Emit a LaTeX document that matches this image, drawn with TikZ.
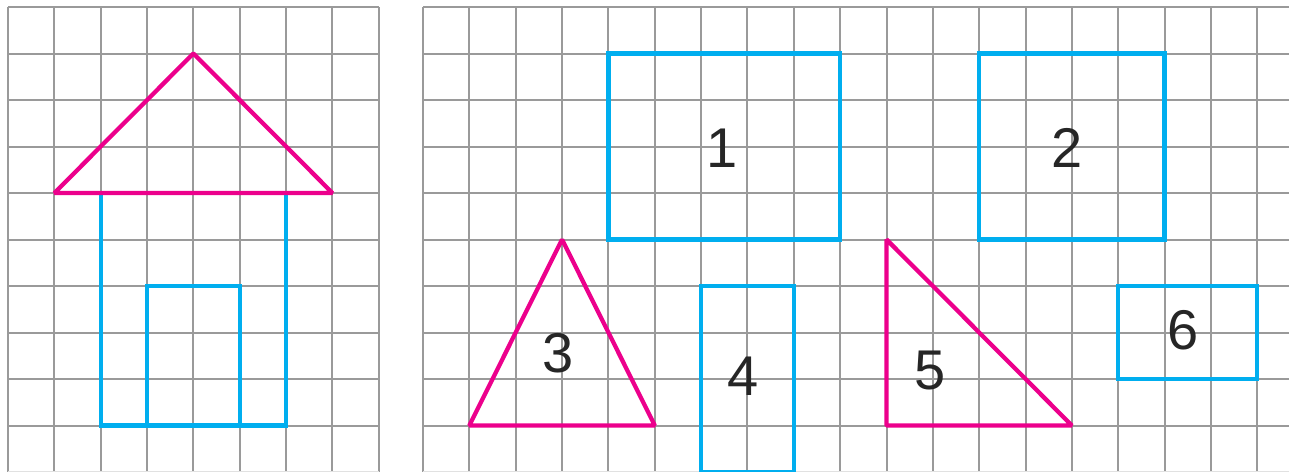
\documentclass[tikz,border=0pt]{standalone}
\usepackage{fontspec}
\setmainfont{Liberation Sans}

\definecolor{gridgray}{HTML}{9A9A9A}
\definecolor{figblue}{HTML}{00AEEF}
\definecolor{figpink}{HTML}{EC008C}

\begin{document}
\begin{tikzpicture}[
  x = 34.7625pt, y = -34.875pt,
  gridline/.style = {draw=gridgray, line width=1.5pt},
  edgeline/.style = {draw=gridgray!30, line width=1.5pt},
  bluefig/.style  = {draw=figblue, line width=3.2pt, line join=miter},
  pinkfig/.style  = {draw=figpink, line width=3.2pt, line join=bevel},
  num/.style      = {font=\fontsize{42}{42}\selectfont, text=black!85,
                     inner sep=0pt},
]
\useasboundingbox (-0.1726,-0.1505) rectangle (27.638,10.0);

% Left sheet - the house
\foreach \i in {0,...,8}
  \draw[gridline] (\i,0) -- (\i,10.1);
\foreach \j in {0,...,9}
  \draw[gridline] (0,\j) -- (8,\j);
\draw[edgeline] (0,10) -- (8,10);

\draw[bluefig] (2,4) -- (2,9) -- (6,9) -- (6,4);
\draw[bluefig] (3,9) -- (3,6) -- (5,6) -- (5,9);
\draw[pinkfig] (1,4) -- (4,1) -- (7,4) -- cycle;

% Right sheet - numbered figures
\begin{scope}[shift={(8.954,0)}]
\foreach \i in {0,...,18}
  \draw[gridline] (\i,0) -- (\i,10.1);
\foreach \j in {0,...,9}
  \draw[gridline] (0,\j) -- (18.684,\j);
\draw[edgeline] (0,10) -- (18.684,10);

\draw[bluefig] (4,1) rectangle (9,5);
\draw[bluefig] (12,1) rectangle (16,5);
\draw[pinkfig] (1,9) -- (3,5) -- (5,9) -- cycle;
\draw[bluefig] (6,6) rectangle (8,10);
\draw[pinkfig] (10,5) -- (10,9) -- (14,9) -- cycle;
\draw[bluefig] (15,6) rectangle (18,8);

\node[num] (n1) at (6.45,3.03)  {1};
\node[num] (n2) at (13.89,3.03) {2};
\node[num] (n3) at (2.91,7.44)  {3};
\node[num] (n4) at (6.9,7.95)   {4};
\node[num] (n5) at (10.94,7.81) {5};
\node[num] (n6) at (16.4,6.95)  {6};
\end{scope}
\end{tikzpicture}
\end{document}
